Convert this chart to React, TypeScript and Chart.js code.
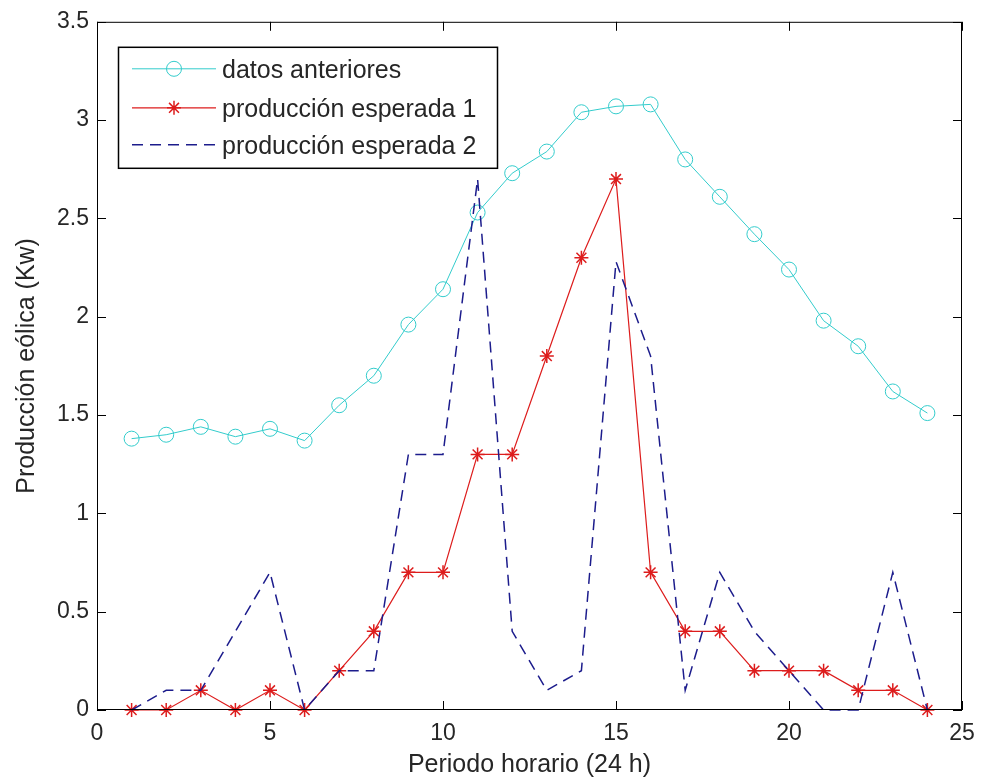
import React, { useEffect, useRef } from "react";
import { Chart, registerables } from "chart.js";

Chart.register(...registerables);

// ---------- data ----------
const hours = [1, 2, 3, 4, 5, 6, 7, 8, 9, 10, 11, 12, 13, 14, 15, 16, 17, 18, 19, 20, 21, 22, 23, 24];
const datosAnteriores = [1.38, 1.40, 1.44, 1.39, 1.43, 1.37, 1.55, 1.70, 1.96, 2.14, 2.53, 2.73, 2.84, 3.04, 3.07, 3.08, 2.80, 2.61, 2.42, 2.24, 1.98, 1.85, 1.62, 1.51];
const produccion1 = [0, 0, 0.1, 0, 0.1, 0, 0.2, 0.4, 0.7, 0.7, 1.3, 1.3, 1.8, 2.3, 2.7, 0.7, 0.4, 0.4, 0.2, 0.2, 0.2, 0.1, 0.1, 0];
const produccion2 = [0, 0.1, 0.1, 0.4, 0.7, 0, 0.2, 0.2, 1.3, 1.3, 2.7, 0.4, 0.1, 0.2, 2.28, 1.8, 0.1, 0.7, 0.4, 0.2, 0, 0, 0.7, 0];
const seriesNames = ["datos anteriores", "producción esperada 1", "producción esperada 2"];
const xTickValues = [0, 5, 10, 15, 20, 25];
const yTickValues = [0, 0.5, 1, 1.5, 2, 2.5, 3, 3.5];
const xTitle = "Periodo horario (24 h)";
const yTitle = "Producción eólica (Kw)";

const FONT = "'Liberation Sans', Arial, sans-serif";
const TEXT = "#262626";
const CYAN = "#33cccc";
const RED = "#dd1c1c";
const BLUE = "#1c1c8c";

const toPoints = (ys: number[]) => hours.map((h, i) => ({ x: h, y: ys[i] }));

const boxPlugin = {
  id: "matlabBox",
  afterDatasetsDraw(chart: any) {
    const { ctx, chartArea: a, scales } = chart;
    const xs = scales.x;
    const ys = scales.y;
    ctx.save();
    ctx.strokeStyle = "#000";
    ctx.lineWidth = 1;
    ctx.strokeRect(a.left + 0.5, a.top + 0.5, a.right - a.left - 1, a.bottom - a.top - 1);
    const tl = 9;
    ctx.beginPath();
    xTickValues.forEach((v) => {
      const px = Math.round(xs.getPixelForValue(v)) + 0.5;
      ctx.moveTo(px, a.bottom);
      ctx.lineTo(px, a.bottom - tl);
      ctx.moveTo(px, a.top);
      ctx.lineTo(px, a.top + tl);
    });
    yTickValues.forEach((v) => {
      const py = Math.round(ys.getPixelForValue(v)) + 0.5;
      ctx.moveTo(a.left, py);
      ctx.lineTo(a.left + tl, py);
      ctx.moveTo(a.right, py);
      ctx.lineTo(a.right - tl, py);
    });
    ctx.stroke();

    // legend box inside the axes (top-left)
    const lx = a.left + 21;
    const ly = a.top + 25;
    const lw = 379;
    const lh = 121;
    ctx.fillStyle = "#fff";
    ctx.fillRect(lx, ly, lw, lh);
    ctx.strokeStyle = "#000";
    ctx.lineWidth = 1.5;
    ctx.strokeRect(lx + 0.5, ly + 0.5, lw, lh);
    const rows = [ly + 22, ly + 61, ly + 98];
    const lineStart = lx + 14;
    const lineEnd = lx + 98;
    const mid = (lineStart + lineEnd) / 2;
    chart.data.datasets.forEach((ds: any, i: number) => {
      const y = rows[i];
      ctx.save();
      ctx.strokeStyle = ds.borderColor;
      ctx.lineWidth = ds.borderWidth;
      ctx.setLineDash(ds.borderDash || []);
      ctx.beginPath();
      ctx.moveTo(lineStart, y);
      ctx.lineTo(lineEnd, y);
      ctx.stroke();
      ctx.setLineDash([]);
      if (ds.pointStyle === "circle") {
        ctx.lineWidth = 1;
        ctx.beginPath();
        ctx.arc(mid, y, ds.pointRadius, 0, Math.PI * 2);
        ctx.stroke();
      } else if (ds.pointStyle === "star") {
        const r = ds.pointRadius;
        ctx.lineWidth = ds.pointBorderWidth;
        ctx.beginPath();
        for (let k = 0; k < 4; k++) {
          const ang = (k * Math.PI) / 4;
          ctx.moveTo(mid - r * Math.cos(ang), y - r * Math.sin(ang));
          ctx.lineTo(mid + r * Math.cos(ang), y + r * Math.sin(ang));
        }
        ctx.stroke();
      }
      ctx.restore();
      ctx.fillStyle = TEXT;
      ctx.font = `25px ${FONT}`;
      ctx.textAlign = "left";
      ctx.textBaseline = "middle";
      ctx.fillText(ds.label, lx + 104, y + 2);
    });
    ctx.restore();
  },
};

export default function App() {
  const ref = useRef<HTMLCanvasElement | null>(null);

  useEffect(() => {
    if (!ref.current) return;
    const chart = new Chart(ref.current, {
      type: "line",
      data: {
        datasets: [
          {
            label: seriesNames[0],
            data: toPoints(datosAnteriores),
            borderColor: CYAN,
            borderWidth: 1,
            pointStyle: "circle",
            pointRadius: 7.5,
            pointBorderWidth: 1,
            pointBorderColor: CYAN,
            pointBackgroundColor: "rgba(0,0,0,0)",
            order: 2,
            clip: false,
          },
          {
            label: seriesNames[1],
            data: toPoints(produccion1),
            borderColor: RED,
            borderWidth: 1.2,
            pointStyle: "star",
            pointRadius: 7,
            pointBorderWidth: 1.5,
            pointBorderColor: RED,
            pointBackgroundColor: RED,
            order: 1,
            clip: false,
          },
          {
            label: seriesNames[2],
            data: toPoints(produccion2),
            borderColor: BLUE,
            borderWidth: 1.5,
            borderDash: [11, 7],
            pointStyle: false as any,
            pointRadius: 0,
            order: 0,
            clip: false,
          },
        ] as any,
      },
      options: {
        animation: false,
        responsive: true,
        maintainAspectRatio: false,
        layout: { padding: { top: 17, right: 23, left: 0, bottom: 0 } },
        plugins: { legend: { display: false }, tooltip: { enabled: false } },
        elements: { line: { tension: 0 } },
        scales: {
          x: {
            type: "linear",
            min: 0,
            max: 25,
            afterFit: (s: any) => {
              s.height = 70;
            },
            afterBuildTicks: (s: any) => {
              s.ticks = xTickValues.map((v) => ({ value: v }));
            },
            grid: { display: false, drawTicks: false },
            border: { display: false },
            ticks: {
              padding: 10,
              color: TEXT,
              font: { family: FONT, size: 23 },
              maxRotation: 0,
              callback: (v: any) => String(v),
            },
            title: {
              display: true,
              text: xTitle,
              color: TEXT,
              font: { family: FONT, size: 25 },
              padding: { top: 0, bottom: 0 },
            },
          },
          y: {
            type: "linear",
            min: 0,
            max: 3.5,
            afterFit: (s: any) => {
              s.width = 97;
            },
            afterBuildTicks: (s: any) => {
              s.ticks = yTickValues.map((v) => ({ value: v }));
            },
            grid: { display: false, drawTicks: false },
            border: { display: false },
            ticks: {
              padding: 8,
              color: TEXT,
              font: { family: FONT, size: 23 },
              callback: (v: any) => String(v),
            },
            title: {
              display: true,
              text: yTitle,
              color: TEXT,
              font: { family: FONT, size: 25 },
              padding: { top: 12, bottom: 0 },
            },
          },
        },
      } as any,
      plugins: [boxPlugin],
    });
    return () => chart.destroy();
  }, []);

  return (
    <div style={{ position: "absolute", left: 0, top: 0, width: 985, height: 780, background: "#fff" }}>
      <canvas ref={ref} />
    </div>
  );
}
